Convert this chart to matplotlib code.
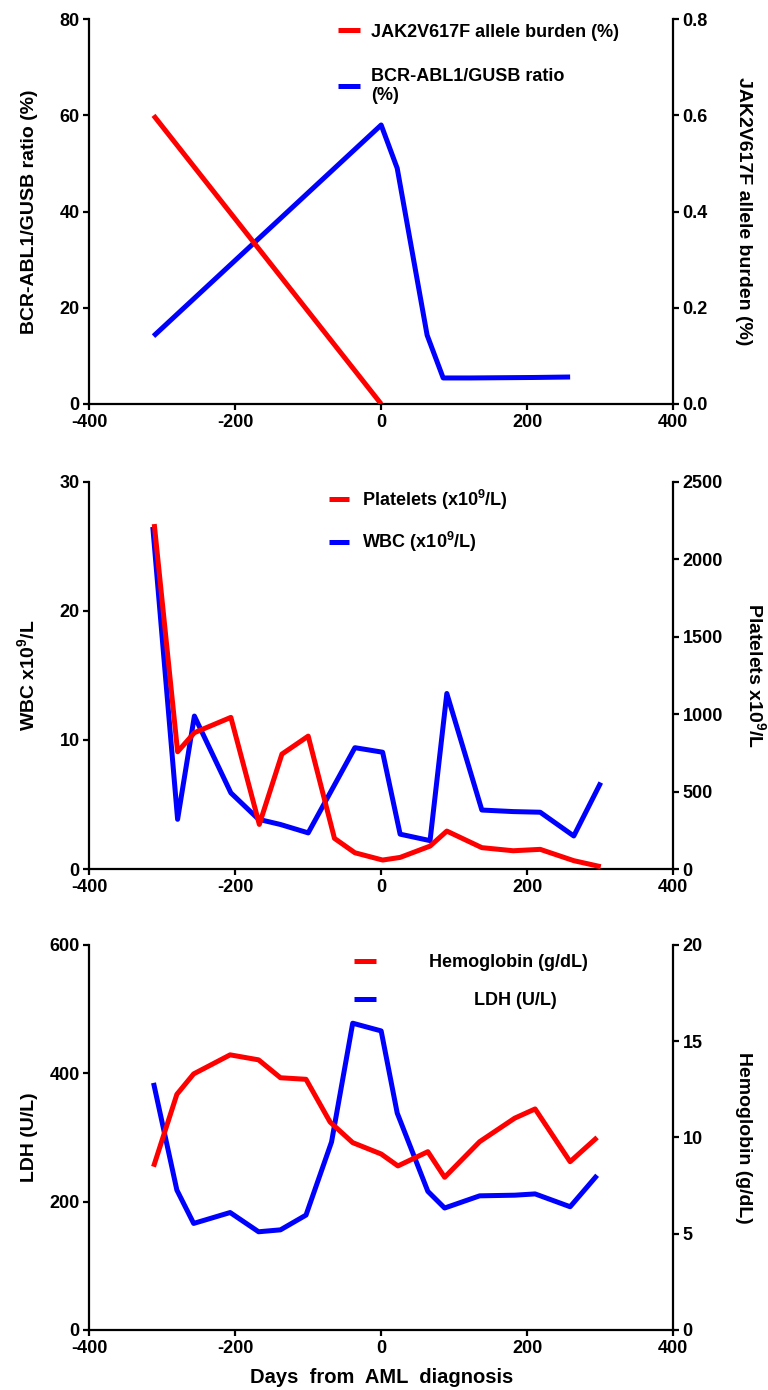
import matplotlib.pyplot as plt
from matplotlib.ticker import FormatStrFormatter

plt.rcParams['font.family'] = ['Liberation Sans', 'DejaVu Sans']
plt.rcParams['font.weight'] = 'bold'
plt.rcParams['axes.unicode_minus'] = False
plt.rcParams['mathtext.fontset'] = 'custom'
plt.rcParams['mathtext.rm'] = 'Liberation Sans:bold'
plt.rcParams['mathtext.it'] = 'Liberation Sans:bold'
plt.rcParams['mathtext.bf'] = 'Liberation Sans:bold'

RED = '#ff0000'
BLUE = '#0000ff'

# panel 1 : BCR-ABL1 (left) and JAK2V617F (right)
bcr_days = [-312, 0, 22, 63, 85, 122, 209, 259]
bcr_ratio = [14.1, 58.0, 49.0, 14.3, 5.4, 5.4, 5.5, 5.6]
jak_days = [-312, 0]
jak_burden = [0.6, 0.0]

# panel 2 : WBC (left) and platelets (right)
wbc_days = [-313, -279, -256, -206, -168, -138, -100, -36, 2, 26, 67, 90, 138, 181, 218, 264, 301]
wbc = [26.5, 3.85, 11.85, 5.9, 3.85, 3.45, 2.8, 9.4, 9.05, 2.7, 2.2, 13.6, 4.57, 4.45, 4.4, 2.56, 6.7]
plt_days = [-311, -279, -256, -206, -167, -136, -100, -64, -36, 2, 26, 67, 90, 138, 181, 218, 264, 301]
platelets = [2227, 757, 880, 979, 288, 742, 858, 198, 105, 58, 75, 148, 245, 138, 118, 127, 54, 15]

# panel 3 : LDH (left) and hemoglobin (right)
lab_days = [-312, -280, -257, -207, -168, -138, -103, -68, -39, 0, 22, 64, 87, 135, 183, 211, 259, 296]
ldh = [385, 218, 166, 183, 153, 156, 179, 293, 478, 466, 338, 216, 190, 209, 210, 212, 192, 241]
hb_days = [-312, -280, -257, -207, -168, -138, -103, -70, -39, 0, 23, 64, 87, 135, 183, 211, 259, 296]
hb = [8.48, 12.24, 13.3, 14.29, 14.03, 13.1, 13.02, 10.8, 9.73, 9.14, 8.52, 9.26, 7.93, 9.78, 11.0, 11.48, 8.74, 10.0]

x_ticks = [-400, -200, 0, 200, 400]

fig = plt.figure(figsize=(7.68, 13.9), dpi=100)

LW = 3.6
FS_TICK = 13
FS_LAB = 14


def make_panel(rect, x1, y1, x2, y2, ylim1, yt1, ylim2, yt2, lab1, lab2, lab2_x, fmt2=None):
    ax = fig.add_axes(rect)
    ax2 = ax.twinx()
    l1, = ax.plot(x1, y1, color=BLUE, lw=LW, solid_capstyle='butt')
    l2, = ax2.plot(x2, y2, color=RED, lw=LW, solid_capstyle='butt')
    ax.set_xlim(-400, 400)
    ax.set_xticks(x_ticks)
    ax.set_ylim(*ylim1)
    ax.set_yticks(yt1)
    ax2.set_ylim(*ylim2)
    ax2.set_yticks(yt2)
    if fmt2:
        ax2.yaxis.set_major_formatter(FormatStrFormatter(fmt2))
    for a in (ax, ax2):
        a.spines['top'].set_visible(False)
        for s in ('left', 'right', 'bottom'):
            a.spines[s].set_linewidth(1.6)
        a.tick_params(width=1.6, length=4, pad=3, labelsize=FS_TICK)
    ax.spines['right'].set_visible(False)
    ax2.spines['left'].set_visible(False)
    ax2.spines['bottom'].set_visible(False)
    ax.set_ylabel(lab1, fontsize=FS_LAB, fontweight='bold')
    ax.yaxis.set_label_coords(-0.088, 0.5)
    ax2.set_ylabel(lab2, fontsize=FS_LAB, fontweight='bold', rotation=270, va='bottom')
    ax2.yaxis.set_label_coords(lab2_x, 0.5)
    return ax, ax2, l1, l2


# top panel
ax, ax2, lb, lr = make_panel([0.1163, 0.7094, 0.760, 0.2768],
                             bcr_days, bcr_ratio, jak_days, jak_burden,
                             (0, 80), [0, 20, 40, 60, 80], (0, 0.8), [0, 0.2, 0.4, 0.6, 0.8],
                             'BCR-ABL1/GUSB ratio (%)', 'JAK2V617F allele burden (%)', 1.106, '%.1f')
ax.legend([lr, lb], ['JAK2V617F allele burden (%)', 'BCR-ABL1/GUSB ratio\n(%)'],
          loc='upper left', bbox_to_anchor=(0.426, 0.988), frameon=False,
          borderpad=0, borderaxespad=0, handlelength=1.2, handletextpad=0.65,
          labelspacing=1.5, fontsize=FS_TICK)

# middle panel
ax, ax2, lb, lr = make_panel([0.1163, 0.3748, 0.760, 0.2786],
                             wbc_days, wbc, plt_days, platelets,
                             (0, 30), [0, 10, 20, 30], (0, 2500), [0, 500, 1000, 1500, 2000, 2500],
                             'WBC x10$^{9}$/L', 'Platelets x10$^{9}$/L', 1.123)
ax.legend([lr, lb], ['Platelets (x10$^{9}$/L)', 'WBC (x10$^{9}$/L)'],
          loc='upper left', bbox_to_anchor=(0.41, 0.985), frameon=False,
          borderpad=0, borderaxespad=0, handlelength=1.15, handletextpad=0.7,
          labelspacing=1.0, fontsize=FS_TICK)

# bottom panel
ax, ax2, lb, lr = make_panel([0.1163, 0.0432, 0.760, 0.2770],
                             lab_days, ldh, hb_days, hb,
                             (0, 600), [0, 200, 400, 600], (0, 20), [0, 5, 10, 15, 20],
                             'LDH (U/L)', 'Hemoglobin (g/dL)', 1.106)
ax.legend([lr, lb], ['        Hemoglobin (g/dL)', '                 LDH (U/L)'],
          loc='upper left', bbox_to_anchor=(0.4543, 0.976), frameon=False,
          borderpad=0, borderaxespad=0, handlelength=1.2, handletextpad=0.7,
          labelspacing=1.15, fontsize=FS_TICK)
ax.set_xlabel('Days  from  AML  diagnosis', fontsize=14.5, fontweight='bold', labelpad=8)

fig.savefig('out.png', dpi=100)
